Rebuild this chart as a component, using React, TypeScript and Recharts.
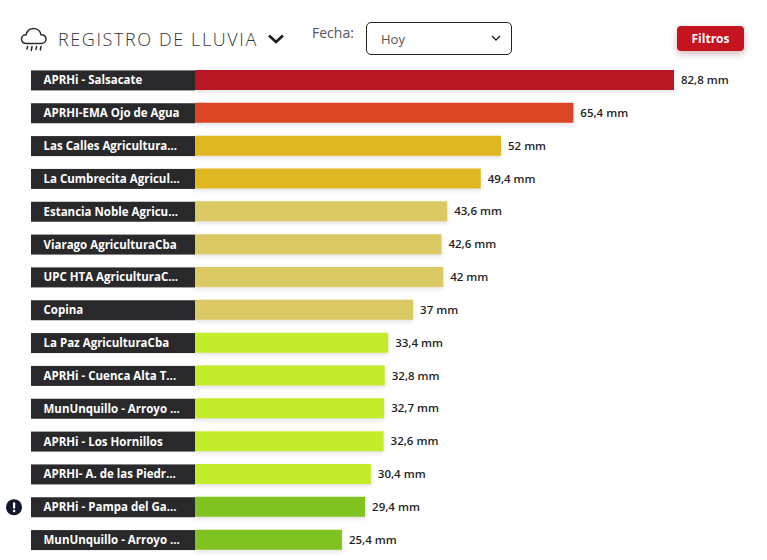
import React from "react";
import { BarChart, Bar, XAxis, YAxis, Cell, LabelList } from "recharts";

const stations = [
  "APRHi - Salsacate",
  "APRHI-EMA Ojo de Agua",
  "Las Calles Agricultura...",
  "La Cumbrecita Agricul...",
  "Estancia Noble Agricu...",
  "Viarago AgriculturaCba",
  "UPC HTA AgriculturaC...",
  "Copina",
  "La Paz AgriculturaCba",
  "APRHi - Cuenca Alta T...",
  "MunUnquillo - Arroyo ...",
  "APRHi - Los Hornillos",
  "APRHI- A. de las Piedr...",
  "APRHi - Pampa del Ga...",
  "MunUnquillo - Arroyo ...",
];
const barValues = [82.8, 65.4, 52.9, 49.4, 43.6, 42.6, 42.9, 37.7, 33.4, 32.8, 32.7, 32.6, 30.4, 29.4, 25.4];
const valueLabels = ["82,8 mm", "65,4 mm", "52 mm", "49,4 mm", "43,6 mm", "42,6 mm", "42 mm", "37 mm", "33,4 mm", "32,8 mm", "32,7 mm", "32,6 mm", "30,4 mm", "29,4 mm", "25,4 mm"];
const barColors = ["#b81723", "#dd4625", "#dfb720", "#dfb720", "#dbc964", "#dbc964", "#dbc964", "#dbc964", "#c4ec2a", "#c4ec2a", "#c4ec2a", "#c4ec2a", "#c4ec2a", "#80c220", "#80c220"];
const flaggedStation = 13;

const rows = stations.map((name, i) => ({ key: i, name, value: barValues[i], label: valueLabels[i] }));
const FONT = "'Open Sans', sans-serif";

const StationTick = (props: any) => {
  const { y, payload } = props;
  const idx = payload.value as number;
  return (
    <g>
      {idx === flaggedStation && (
        <g>
          <circle cx={14} cy={y} r={8} fill="#12182b" />
          <rect x={13} y={y - 5} width={2.2} height={6.5} rx={1} fill="#fff" />
          <circle cx={14.1} cy={y + 3.8} r={1.2} fill="#fff" />
        </g>
      )}
      <rect x={31} y={y - 10} width={164} height={20} fill="#29292b" />
      <text x={43.5} y={y + 4} fill="#fff" fontFamily={FONT} fontWeight={700} fontSize={11.5}>
        {stations[idx]}
      </text>
    </g>
  );
};

const ValueLabel = (props: any) => {
  const { x, y, width, height, index } = props;
  return (
    <text x={x + width + 7} y={y + height / 2 + 4} fill="#1f1f1f" fontFamily={FONT} fontWeight={600} fontSize={11.5}>
      {valueLabels[index]}
    </text>
  );
};

export default function App() {
  return (
    <div style={{ position: "absolute", left: 0, top: 0, width: 767, height: 560, background: "#fff", overflow: "hidden", fontFamily: FONT }}>
      <svg width={28} height={28} viewBox="0 0 28 28" style={{ position: "absolute", left: 20, top: 25 }} fill="none" stroke="#2b2b2b" strokeWidth={1.5}>
        <path d="M7 18.5 C3.5 18.5 1.5 16.5 1.5 14 C1.5 11.5 3.5 9.8 6 9.8 C7 6 10 3.5 13.5 3.5 C17.5 3.5 20.5 6.3 21 9.8 C24 9.8 26 11.6 26 14.2 C26 16.6 24 18.5 21 18.5 Z" />
        <path d="M7.5 21.5 L7 24 M12 21.5 L11.3 25.5 M16.5 21.5 L16 24.5 M21 21.5 L20.3 25" strokeLinecap="round" />
      </svg>
      <div style={{ position: "absolute", left: 58, top: 26, fontSize: 18, fontFamily: FONT, fontWeight: 300, letterSpacing: 1.6, color: "#333", lineHeight: "26px", whiteSpace: "nowrap" }}>
        REGISTRO DE LLUVIA
      </div>
      <svg width={18} height={12} viewBox="0 0 18 12" style={{ position: "absolute", left: 267, top: 33 }} fill="none" stroke="#1c1c1c" strokeWidth={2.6}>
        <path d="M2 2.5 L9 9 L16 2.5" />
      </svg>
      <div style={{ position: "absolute", left: 312, top: 23, fontSize: 14, color: "#555", lineHeight: "20px" }}>Fecha:</div>
      <div style={{ position: "absolute", left: 366, top: 22, width: 144, height: 31, border: "1.5px solid #222", borderRadius: 5, fontSize: 13, color: "#555", lineHeight: "30px", boxSizing: "content-box" }}>
        <span style={{ position: "absolute", left: 14, top: 1 }}>Hoy</span>
        <svg width={10} height={7} viewBox="0 0 10 7" style={{ position: "absolute", left: 124, top: 12 }} fill="none" stroke="#222" strokeWidth={1.4}>
          <path d="M1 1 L5 5 L9 1" />
        </svg>
      </div>
      <div style={{ position: "absolute", left: 677, top: 26, width: 67, height: 25, background: "#c5131f", borderRadius: 4, color: "#fff", fontSize: 12, fontWeight: 700, textAlign: "center", lineHeight: "25px", boxShadow: "0 3px 7px rgba(120,20,30,0.3)" }}>
        Filtros
      </div>
      <div style={{ position: "absolute", left: 0, top: 0 }}>
        <BarChart width={767} height={560} data={rows} layout="vertical" margin={{ top: 64, right: 0, bottom: 3.5, left: 0 }} barSize={20}>
          <XAxis type="number" hide domain={[0, 98.88]} />
          <YAxis type="category" dataKey="key" width={195} axisLine={false} tickLine={false} interval={0} tick={<StationTick />} />
          <Bar dataKey="value" isAnimationActive={false} style={{ filter: "drop-shadow(0 2px 2px rgba(0,0,0,0.12))" }}>
            {rows.map((r, i) => (
              <Cell key={r.key} fill={barColors[i]} />
            ))}
            <LabelList dataKey="label" content={<ValueLabel />} />
          </Bar>
        </BarChart>
      </div>
    </div>
  );
}
